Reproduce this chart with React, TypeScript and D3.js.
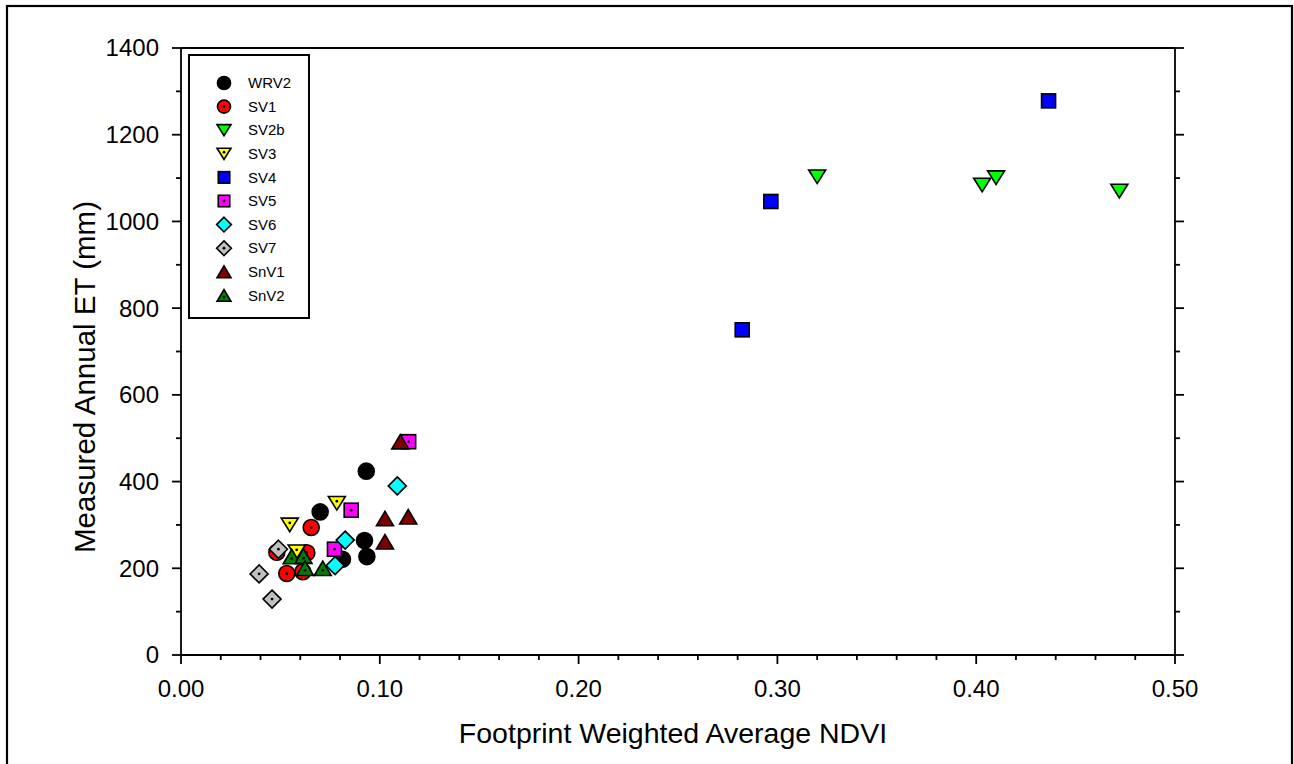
import React from "react";
import * as d3 from "d3";

type Pt = [number, number];

const seriesNames = ["WRV2", "SV1", "SV2b", "SV3", "SV4", "SV5", "SV6", "SV7", "SnV1", "SnV2"];
const seriesColors = ["#000000", "#ff0000", "#00ff00", "#ffff00", "#0000ff", "#ff00ff", "#00ffff", "#c0c0c0", "#800000", "#008000"];
const seriesShapes = ["circle", "circle", "triDown", "triDown", "square", "square", "diamond", "diamond", "triUp", "triUp"];
const seriesDot = [false, true, false, true, false, true, false, true, false, true];

const WRV2: Pt[] = [[0.0932, 424], [0.0700, 330], [0.0923, 264], [0.0935, 227], [0.0812, 221]];
const SV1: Pt[] = [[0.0655, 294], [0.0633, 236], [0.0482, 237], [0.0613, 192], [0.0532, 188]];
const SV2b: Pt[] = [[0.320, 1103], [0.403, 1084], [0.410, 1101], [0.472, 1070]];
const SV3: Pt[] = [[0.0547, 300], [0.0784, 350], [0.0582, 238]];
const SV4: Pt[] = [[0.2823, 750], [0.2967, 1046], [0.4364, 1278]];
const SV5: Pt[] = [[0.1145, 492], [0.0856, 334], [0.0772, 244]];
const SV6: Pt[] = [[0.1088, 390], [0.0826, 265], [0.0775, 206]];
const SV7: Pt[] = [[0.0490, 244], [0.0393, 187], [0.0458, 129]];
const SnV1: Pt[] = [[0.1103, 492], [0.1026, 315], [0.1143, 319], [0.1026, 261]];
const SnV2: Pt[] = [[0.0557, 227], [0.0616, 228], [0.0713, 200], [0.0624, 200]];
const seriesData: Pt[][] = [WRV2, SV1, SV2b, SV3, SV4, SV5, SV6, SV7, SnV1, SnV2];

const xMajorTicks = [0, 0.1, 0.2, 0.3, 0.4, 0.5];
const yMajorTicks = [0, 200, 400, 600, 800, 1000, 1200, 1400];

const FONT = "'Liberation Sans', Arial, Helvetica, sans-serif";

function Marker({ shape, cx, cy, fill, dot, s }: { shape: string; cx: number; cy: number; fill: string; dot: boolean; s: number }) {
  const sw = 1.6;
  let el: React.ReactNode = null;
  if (shape === "circle") {
    el = <circle cx={cx} cy={cy} r={8 * s} fill={fill} stroke="#000" strokeWidth={sw} />;
  } else if (shape === "square") {
    const h = 7 * s;
    el = <rect x={cx - h} y={cy - h} width={2 * h} height={2 * h} fill={fill} stroke="#000" strokeWidth={sw} />;
  } else if (shape === "diamond") {
    const d = 9 * s;
    el = <polygon points={`${cx},${cy - d} ${cx + d},${cy} ${cx},${cy + d} ${cx - d},${cy}`} fill={fill} stroke="#000" strokeWidth={sw} strokeLinejoin="miter" />;
  } else if (shape === "triDown") {
    const w = 8.5 * s, h = 6.8 * s;
    el = <polygon points={`${cx - w},${cy - h} ${cx + w},${cy - h} ${cx},${cy + h}`} fill={fill} stroke="#000" strokeWidth={sw} />;
  } else if (shape === "triUp") {
    const w = 8.5 * s, h = 7.2 * s;
    el = <polygon points={`${cx - w},${cy + h} ${cx + w},${cy + h} ${cx},${cy - h}`} fill={fill} stroke="#000" strokeWidth={sw} />;
  }
  let dotY = cy;
  if (shape === "triUp") dotY = cy + 2 * s;
  if (shape === "triDown") dotY = cy - 2 * s;
  return (
    <g>
      {el}
      {dot && <circle cx={cx} cy={dotY} r={1.4} fill="#000" />}
    </g>
  );
}

export default function App() {
  const W = 1294, H = 764;
  const x = d3.scaleLinear().domain([0, 0.5]).range([181, 1175]);
  const y = d3.scaleLinear().domain([0, 1400]).range([655, 48]);
  const xMinor = d3.range(0, 0.5001, 0.02);
  const yMinor = d3.range(0, 1400.1, 100);
  const x0 = x(0), x1 = x(0.5), y0 = y(0), y1 = y(1400);
  const axisW = 1.8;

  return (
    <svg width={W} height={H} style={{ position: "absolute", left: 0, top: 0, background: "#fff" }} fontFamily={FONT}>
      <rect x={0} y={0} width={W} height={H} fill="#fff" />
      {/* outer border */}
      <rect x={7} y={6} width={1285} height={770} fill="none" stroke="#000" strokeWidth={2.2} />

      {/* markers */}
      {seriesData.map((pts, si) => (
        <g key={si}>
          {pts.map((p, i) => (
            <Marker key={i} shape={seriesShapes[si]} cx={x(p[0])} cy={y(p[1])} fill={seriesColors[si]} dot={seriesDot[si]} s={1} />
          ))}
        </g>
      ))}

      {/* frame */}
      <line x1={x0} y1={y1} x2={x0} y2={y0} stroke="#000" strokeWidth={axisW} />
      <line x1={x1} y1={y1} x2={x1} y2={y0} stroke="#000" strokeWidth={axisW} />
      <line x1={x0} y1={y1} x2={x1} y2={y1} stroke="#000" strokeWidth={axisW} />
      <line x1={x0} y1={y0} x2={x1} y2={y0} stroke="#000" strokeWidth={axisW} />

      {/* y ticks left & right */}
      {yMinor.map((v, i) => {
        const major = Math.round(v) % 200 === 0;
        const len = major ? 9 : 5;
        return (
          <g key={"yt" + i}>
            <line x1={x0 - len} x2={x0} y1={y(v)} y2={y(v)} stroke="#000" strokeWidth={axisW} />
            <line x1={x1} x2={x1 + len} y1={y(v)} y2={y(v)} stroke="#000" strokeWidth={axisW} />
          </g>
        );
      })}
      {/* x ticks bottom */}
      {xMinor.map((v, i) => {
        const major = i % 5 === 0;
        const len = major ? 9 : 5;
        return <line key={"xt" + i} x1={x(v)} x2={x(v)} y1={y0} y2={y0 + len} stroke="#000" strokeWidth={axisW} />;
      })}

      {/* tick labels */}
      {yMajorTicks.map((v) => (
        <text key={"yl" + v} x={159} y={y(v)} dy="0.35em" textAnchor="end" fontSize={24} fill="#000">
          {v}
        </text>
      ))}
      {xMajorTicks.map((v) => (
        <text key={"xl" + v} x={x(v)} y={697} textAnchor="middle" fontSize={24} fill="#000">
          {d3.format(".2f")(v)}
        </text>
      ))}

      {/* axis titles */}
      <text x={(x0 + x1) / 2 - 5} y={743} textAnchor="middle" fontSize={28.5} fill="#000">
        Footprint Weighted Average NDVI
      </text>
      <text transform={`translate(95,377) rotate(-90)`} textAnchor="middle" fontSize={29.5} fill="#000">
        Measured Annual ET (mm)
      </text>

      {/* legend */}
      <rect x={189} y={55} width={120} height={263} fill="#fff" stroke="#000" strokeWidth={2} />
      {seriesNames.map((n, i) => {
        const ly = 83 + i * 23.6;
        return (
          <g key={"lg" + n}>
            <Marker shape={seriesShapes[i]} cx={224} cy={ly} fill={seriesColors[i]} dot={seriesDot[i]} s={0.82} />
            <text x={248} y={ly} dy="0.35em" fontSize={15} fill="#000">
              {n}
            </text>
          </g>
        );
      })}
    </svg>
  );
}
